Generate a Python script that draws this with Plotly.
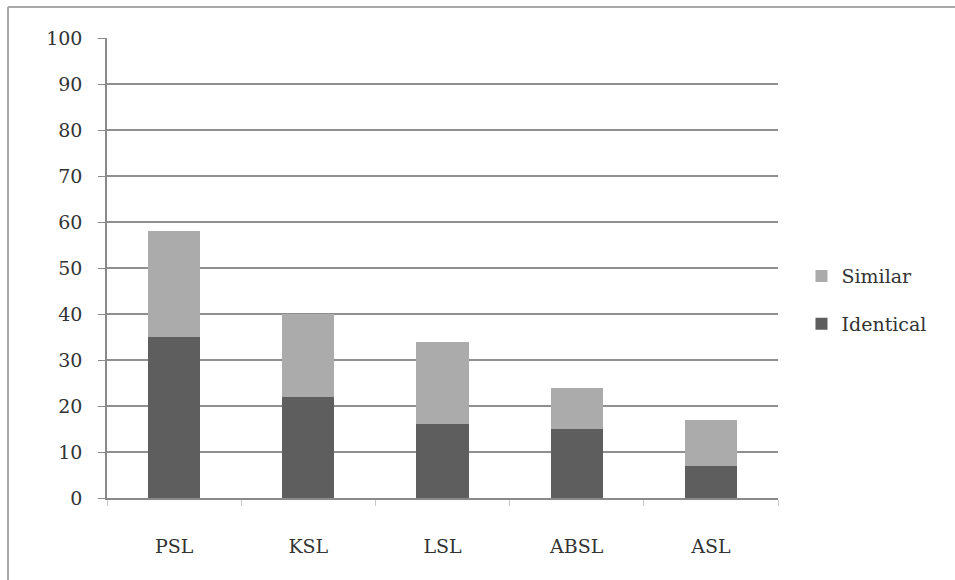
import plotly.graph_objects as go

# Sign languages compared and counts of identical / similar signs
languages = ["PSL", "KSL", "LSL", "ABSL", "ASL"]
identical = [35, 22, 16, 15, 7]
similar = [23, 18, 18, 9, 10]
y_ticks = [0, 10, 20, 30, 40, 50, 60, 70, 80, 90, 100]

FONT = "DejaVu Serif"
TEXT = "#333333"

fig = go.Figure()
fig.add_trace(go.Bar(
    x=languages, y=identical, name="Identical",
    marker=dict(color="#5e5e5e", line=dict(width=0)),
    legendgroup="b", legendrank=2,
))
fig.add_trace(go.Bar(
    x=languages, y=similar, name="Similar",
    marker=dict(color="#ababab", line=dict(width=0)),
    legendgroup="a", legendrank=1,
))

# Outer frame of the chart (left and top edges)
frame = dict(type="line", xref="paper", yref="paper",
             line=dict(color="#a8a8a8", width=2), layer="above")
fig.add_shape(**frame, x0=-0.1475, x1=-0.1475, y0=1.0674, y1=-0.18)
fig.add_shape(**frame, x0=-0.1475, x1=1.27, y0=1.0674, y1=1.0674)

fig.update_layout(
    width=955, height=580,
    margin=dict(l=107, r=177, t=38, b=82),
    paper_bgcolor="white", plot_bgcolor="white",
    barmode="stack", bargap=0.61,
    font=dict(family=FONT, size=19, color=TEXT),
    showlegend=True,
    legend=dict(
        x=1.035, xanchor="left", y=0.43, yanchor="middle",
        traceorder="grouped", tracegroupgap=20,
        font=dict(family=FONT, size=19, color=TEXT),
        itemwidth=30,
    ),
    xaxis=dict(
        type="category", showgrid=False,
        showline=True, linecolor="#8a8a8a", linewidth=2,
        ticks="outside", tickson="boundaries", ticklen=6,
        tickcolor="#c8c8c8", tickwidth=1,
        ticklabelstandoff=30,
        tickfont=dict(family=FONT, size=19, color=TEXT),
    ),
    yaxis=dict(
        range=[0, 100], tickvals=y_ticks,
        showgrid=True, gridcolor="#8f8f8f", gridwidth=2,
        showline=True, linecolor="#8a8a8a", linewidth=1.5,
        ticks="outside", ticklen=7, tickcolor="#8a8a8a",
        ticklabelstandoff=12, zeroline=False,
        tickfont=dict(family=FONT, size=19, color=TEXT),
    ),
)

fig.write_html("out.html")
